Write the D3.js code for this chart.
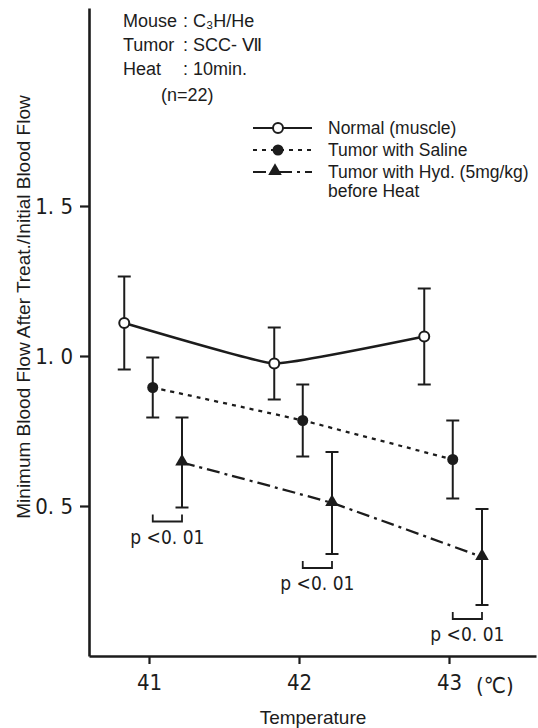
<!DOCTYPE html>
<html>
<head>
<meta charset="utf-8">
<script src="https://cdn.jsdelivr.net/npm/d3@7"></script>
<style>
  body { margin: 0; background: #fff; }
  svg { display: block; }
</style>
</head>
<body>
<div id="chart"></div>
<script>
/*****************************************************
 * DATA
 *****************************************************/
const temps = [41, 42, 43];
const yTicks = [0.5, 1.0, 1.5];

const normalMean = [1.11, 0.975, 1.065];
const normalSD = [0.155, 0.12, 0.16];

const salineMean = [0.895, 0.785, 0.655];
const salineSD = [0.10, 0.12, 0.13];

const hydMean = [0.645, 0.51, 0.33];
const hydSD = [0.15, 0.17, 0.16];

const pLabels = ["p <0. 01", "p <0. 01", "p <0. 01"];

const series = [
  { name: "Normal (muscle)", mean: normalMean, sd: normalSD, shift: -0.165, dash: null, marker: "open" },
  { name: "Tumor with Saline", mean: salineMean, sd: salineSD, shift: 0.025, dash: "4,5", marker: "dot" },
  { name: "Tumor with Hyd. (5mg/kg)", mean: hydMean, sd: hydSD, shift: 0.22, dash: "13,5,3,5", marker: "tri" }
];

const width = 538;
const height = 728;
const ink = "#1c1c1c";
const tickFont = "'Liberation Sans Narrow', 'DejaVu Sans Condensed', sans-serif";
const textFont = "'Liberation Sans', Arial, sans-serif";

const svg = d3.select("#chart")
  .append("svg")
  .attr("width", width)
  .attr("height", height);

/*****************************************************
 * SCALES + AXES
 *****************************************************/
const x = d3.scaleLinear().domain([40.6, 43.58]).range([89, 536]);
const y = d3.scaleLinear().domain([0, 2.16]).range([656, 8]);

const yAxis = svg.append("g")
  .attr("transform", `translate(${x(40.6)},0)`)
  .call(d3.axisLeft(y)
    .tickValues(yTicks)
    .tickSize(9)
    .tickSizeOuter(0)
    .tickPadding(7)
    .tickFormat(d => d.toFixed(1).replace(".", ". ")));

const xAxis = svg.append("g")
  .attr("transform", `translate(0,${y(0)})`)
  .call(d3.axisBottom(x)
    .tickValues(temps)
    .tickSize(8)
    .tickSizeOuter(0)
    .tickPadding(10)
    .tickFormat(d3.format("d")));

[yAxis, xAxis].forEach(g => {
  g.select(".domain").attr("stroke", ink).attr("stroke-width", 2.6);
  g.selectAll(".tick line").attr("stroke", ink).attr("stroke-width", 2.2);
  g.selectAll(".tick text")
    .attr("fill", ink)
    .style("font-family", tickFont)
    .style("font-size", "22px");
});

svg.append("text")
  .attr("x", x(43) + 27)
  .attr("y", y(0) + 37)
  .attr("fill", ink)
  .style("font-family", tickFont)
  .style("font-size", "22px")
  .text("(℃)");

svg.append("text")
  .attr("x", 313)
  .attr("y", 724)
  .attr("text-anchor", "middle")
  .attr("fill", ink)
  .style("font-family", textFont)
  .style("font-size", "19px")
  .text("Temperature");

svg.append("text")
  .attr("transform", "translate(30,307) rotate(-90)")
  .attr("text-anchor", "middle")
  .attr("fill", ink)
  .style("font-family", textFont)
  .style("font-size", "19px")
  .text("Minimum Blood Flow After Treat./Initial Blood Flow");

/*****************************************************
 * SERIES
 *****************************************************/
const line = d3.line()
  .x(d => x(d.t))
  .y(d => y(d.v))
  .curve(d3.curveCardinal.tension(0.7));

const tri = d3.symbol().type(d3.symbolTriangle).size(80);

series.forEach(s => {
  const pts = temps.map((t, i) => ({ t: t + s.shift, v: s.mean[i], sd: s.sd[i] }));
  const g = svg.append("g");

  g.append("path")
    .datum(pts)
    .attr("d", line)
    .attr("fill", "none")
    .attr("stroke", ink)
    .attr("stroke-width", s.marker === "open" ? 2.5 : 2.3)
    .attr("stroke-dasharray", s.dash);

  const eb = g.selectAll(".eb").data(pts).enter().append("g");
  eb.append("line")
    .attr("x1", d => x(d.t)).attr("x2", d => x(d.t))
    .attr("y1", d => y(d.v + d.sd)).attr("y2", d => y(d.v - d.sd))
    .attr("stroke", ink).attr("stroke-width", 2);
  [1, -1].forEach(k => {
    eb.append("line")
      .attr("x1", d => x(d.t) - 6.5).attr("x2", d => x(d.t) + 6.5)
      .attr("y1", d => y(d.v + k * d.sd)).attr("y2", d => y(d.v + k * d.sd))
      .attr("stroke", ink).attr("stroke-width", 2);
  });

  drawMarker(g.selectAll(".mk").data(pts).enter().append("g")
    .attr("transform", d => `translate(${x(d.t)},${y(d.v)})`), s.marker);
});

function drawMarker(sel, kind) {
  if (kind === "open") {
    sel.append("circle").attr("r", 5).attr("fill", "#fff").attr("stroke", ink).attr("stroke-width", 2);
  } else if (kind === "dot") {
    sel.append("circle").attr("r", 5.5).attr("fill", ink);
  } else {
    sel.append("path").attr("d", tri).attr("transform", "translate(0,-1)").attr("fill", ink);
  }
}

/*****************************************************
 * SIGNIFICANCE BRACKETS
 *****************************************************/
temps.forEach((t, i) => {
  const x1 = x(t + series[1].shift);
  const x2 = x(t + series[2].shift);
  const by = y(hydMean[i] - hydSD[i]) + 14;
  svg.append("path")
    .attr("d", `M${x1},${by - 7}V${by}H${x2}V${by - 7}`)
    .attr("fill", "none")
    .attr("stroke", ink)
    .attr("stroke-width", 1.8);
  svg.append("text")
    .attr("x", (x1 + x2) / 2)
    .attr("y", by + 22)
    .attr("text-anchor", "middle")
    .attr("fill", ink)
    .style("font-family", tickFont)
    .style("font-size", "19px")
    .text(pLabels[i]);
});

/*****************************************************
 * LEGEND
 *****************************************************/
const legend = svg.append("g").attr("transform", "translate(253,128)");
series.forEach((s, i) => {
  const row = legend.append("g").attr("transform", `translate(0,${i * 22})`);
  row.append("line")
    .attr("x1", 0).attr("x2", 59)
    .attr("stroke", ink).attr("stroke-width", 2.2)
    .attr("stroke-dasharray", s.dash);
  drawMarker(row.append("g").attr("transform", `translate(${s.marker === "tri" ? 22 : 25},0)`), s.marker);
  row.append("text")
    .attr("x", 75).attr("y", 6)
    .attr("fill", ink)
    .style("font-family", textFont)
    .style("font-size", "17.5px")
    .text(s.name);
});
legend.append("text")
  .attr("x", 75).attr("y", 6 + 3 * 21)
  .attr("fill", ink)
  .style("font-family", textFont)
  .style("font-size", "17.5px")
  .text("before Heat");

/*****************************************************
 * INFO BLOCK
 *****************************************************/
const info = [
  ["Mouse", "C₃H/He"],
  ["Tumor", "SCC- Ⅶ"],
  ["Heat", "10min."]
];
info.forEach((r, i) => {
  const ty = 27 + i * 24;
  svg.append("text").attr("x", 123).attr("y", ty).attr("fill", ink)
    .style("font-family", textFont).style("font-size", "18px").text(r[0]);
  svg.append("text").attr("x", 183).attr("y", ty).attr("fill", ink)
    .style("font-family", textFont).style("font-size", "18px").text(":");
  svg.append("text").attr("x", 193).attr("y", ty).attr("fill", ink)
    .style("font-family", textFont).style("font-size", "18px").text(r[1]);
});
svg.append("text").attr("x", 161).attr("y", 101).attr("fill", ink)
  .style("font-family", textFont).style("font-size", "18px").text("(n=22)");
</script>
</body>
</html>
